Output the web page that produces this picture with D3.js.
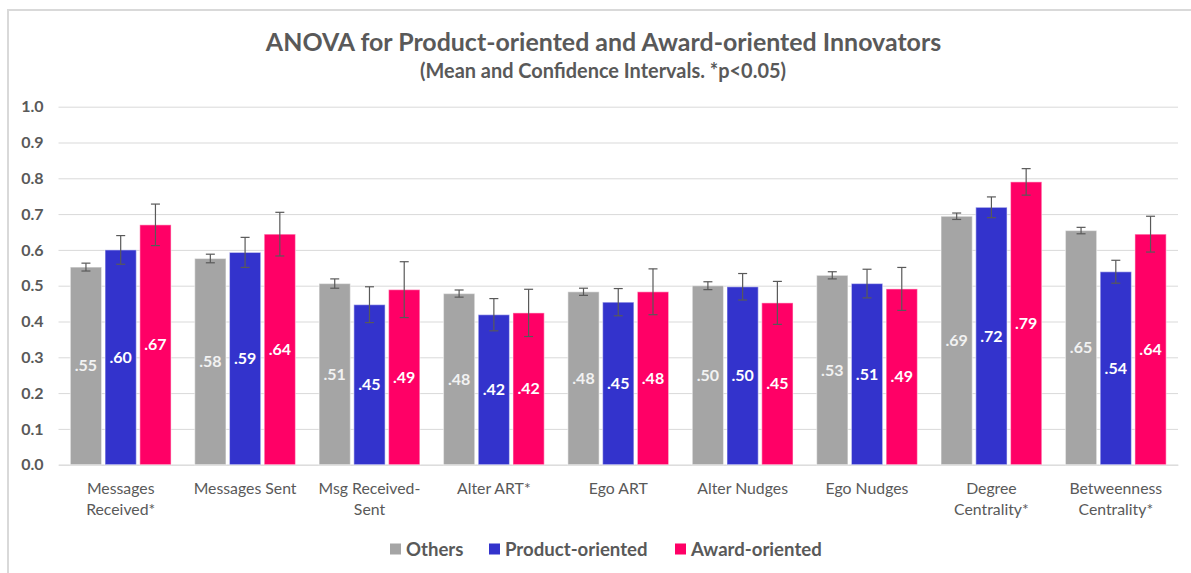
<!DOCTYPE html>
<html>
<head>
<meta charset="utf-8">
<script src="https://cdn.jsdelivr.net/npm/d3@7"></script>
<style>
  html, body { margin: 0; padding: 0; background: #ffffff; }
  svg { display: block; }
  text { font-family: Lato, "Open Sans", sans-serif; }
</style>
</head>
<body>
<svg id="chart" width="1191" height="573"></svg>
<script>
// ---- data ----
const categories = ["Messages Received*", "Messages Sent", "Msg Received-Sent", "Alter ART*", "Ego ART", "Alter Nudges", "Ego Nudges", "Degree Centrality*", "Betweenness Centrality*"];
const categoryLines = [["Messages", "Received*"], ["Messages Sent"], ["Msg Received-", "Sent"], ["Alter ART*"], ["Ego ART"], ["Alter Nudges"], ["Ego Nudges"], ["Degree", "Centrality*"], ["Betweenness", "Centrality*"]];
const seriesNames = ["Others", "Product-oriented", "Award-oriented"];
const othersMean  = [0.552, 0.576, 0.506, 0.478, 0.483, 0.500, 0.529, 0.694, 0.654];
const productMean = [0.600, 0.593, 0.447, 0.419, 0.454, 0.497, 0.506, 0.719, 0.539];
const awardMean   = [0.670, 0.644, 0.489, 0.424, 0.483, 0.452, 0.491, 0.790, 0.644];
const othersCI    = [0.011, 0.012, 0.013, 0.010, 0.010, 0.011, 0.010, 0.009, 0.009];
const productCI   = [0.040, 0.042, 0.050, 0.045, 0.038, 0.037, 0.040, 0.029, 0.032];
const awardCI     = [0.058, 0.061, 0.078, 0.066, 0.064, 0.060, 0.060, 0.037, 0.050];
const yTicks = [0, 0.1, 0.2, 0.3, 0.4, 0.5, 0.6, 0.7, 0.8, 0.9, 1.0];
const titleText = "ANOVA for Product-oriented and Award-oriented Innovators";
const subtitleText = "(Mean and Confidence Intervals. *p<0.05)";

const colors = ["#A5A5A5", "#3333CC", "#FF0066"];
const means = [othersMean, productMean, awardMean];
const cis = [othersCI, productCI, awardCI];

const svg = d3.select("#chart");
const textColor = "#595959";

// frame
svg.append("rect").attr("x", 8).attr("y", 10).attr("width", 1300).attr("height", 700)
  .attr("fill", "none").attr("stroke", "#d9d9d9").attr("stroke-width", 2);

// scales
const x0 = d3.scaleBand().domain(categories).range([58.5, 1178]).paddingInner(0).paddingOuter(0);
const x1 = d3.scaleBand().domain(seriesNames).range([0, x0.bandwidth()]).paddingInner(0.1).paddingOuter(0.34);
const y = d3.scaleLinear().domain([0, 1]).range([464.7, 106.7]);

function fitText(sel, target) {
  let fs = parseFloat(sel.attr("font-size"));
  for (let i = 0; i < 4; i++) {
    const w = sel.node().getComputedTextLength();
    fs = fs * target / w;
    sel.attr("font-size", fs);
  }
}

// title
const t1 = svg.append("text").attr("x", 603.5).attr("y", 51).attr("text-anchor", "middle")
  .attr("font-size", 20).attr("font-weight", "bold").attr("fill", textColor).text(titleText);
fitText(t1, 675);
const t2 = svg.append("text").attr("x", 603).attr("y", 78).attr("text-anchor", "middle")
  .attr("font-size", 15).attr("font-weight", "bold").attr("fill", textColor).text(subtitleText);
fitText(t2, 366);

// gridlines + y axis
const yAxis = d3.axisLeft(y).tickValues(yTicks).tickFormat(d3.format(".1f")).tickSize(-(1178 - 58.5)).tickPadding(15);
const gy = svg.append("g").attr("transform", "translate(58.5,0)").call(yAxis);
gy.select(".domain").remove();
gy.selectAll(".tick line").attr("stroke", "#d9d9d9").attr("stroke-width", 1);
gy.selectAll(".tick text").attr("fill", textColor).attr("font-size", 16).attr("font-weight", "bold")
  .attr("font-family", "Lato, 'Open Sans', sans-serif");

// x axis labels
const xAxis = d3.axisBottom(x0).tickSize(0).tickFormat("");
const gx = svg.append("g").attr("transform", "translate(0," + y(0) + ")").call(xAxis);
gx.select(".domain").attr("stroke", "#d9d9d9");
gx.selectAll(".tick").each(function(d, i) {
  const t = d3.select(this).append("text").attr("fill", textColor).attr("font-size", 15.8)
    .attr("text-anchor", "middle").attr("y", 29);
  categoryLines[i].forEach((ln, j) => {
    t.append("tspan").attr("x", 0).attr("dy", j === 0 ? 0 : 21.5).text(ln);
  });
});

// bars
const groups = svg.append("g").selectAll("g").data(categories).join("g")
  .attr("transform", d => "translate(" + x0(d) + ",0)");

seriesNames.forEach((s, si) => {
  groups.append("rect")
    .attr("x", x1(s))
    .attr("y", (d, i) => y(means[si][i]))
    .attr("width", x1.bandwidth())
    .attr("height", (d, i) => y(0) - y(means[si][i]))
    .attr("fill", colors[si])
    .attr("stroke", "#ffffff").attr("stroke-opacity", 0.45).attr("stroke-width", 1.2);
});

// error bars
seriesNames.forEach((s, si) => {
  const cx = x1(s) + x1.bandwidth() / 2;
  const eb = groups.append("g").attr("stroke", "#595959").attr("stroke-width", 1.2);
  eb.append("line").attr("x1", cx).attr("x2", cx)
    .attr("y1", (d, i) => y(means[si][i] + cis[si][i]))
    .attr("y2", (d, i) => y(means[si][i] - cis[si][i]));
  eb.append("line").attr("x1", cx - 4.5).attr("x2", cx + 4.5)
    .attr("y1", (d, i) => y(means[si][i] + cis[si][i]))
    .attr("y2", (d, i) => y(means[si][i] + cis[si][i]));
  eb.append("line").attr("x1", cx - 4.5).attr("x2", cx + 4.5)
    .attr("y1", (d, i) => y(means[si][i] - cis[si][i]))
    .attr("y2", (d, i) => y(means[si][i] - cis[si][i]));
});

// value labels
const fmt = v => d3.format(".2f")(v).replace(/^0/, "");
seriesNames.forEach((s, si) => {
  groups.append("text")
    .attr("x", x1(s) + x1.bandwidth() / 2)
    .attr("y", (d, i) => (y(means[si][i]) + y(0)) / 2)
    .attr("dy", "0.35em")
    .attr("text-anchor", "middle")
    .attr("font-size", 16).attr("font-weight", "bold")
    .attr("fill", si === 0 ? "#f2f2f2" : "#ffffff")
    .text((d, i) => fmt(means[si][i]));
});

// legend
const legendX = [390, 489, 675];
const lg = svg.append("g");
seriesNames.forEach((s, si) => {
  lg.append("rect").attr("x", legendX[si]).attr("y", 543.5).attr("width", 11).attr("height", 11).attr("fill", colors[si]);
  lg.append("text").attr("x", legendX[si] + 16).attr("y", 555.5).attr("font-size", 18.6).attr("font-weight", "bold")
    .attr("fill", textColor).text(s);
});
</script>
</body>
</html>
